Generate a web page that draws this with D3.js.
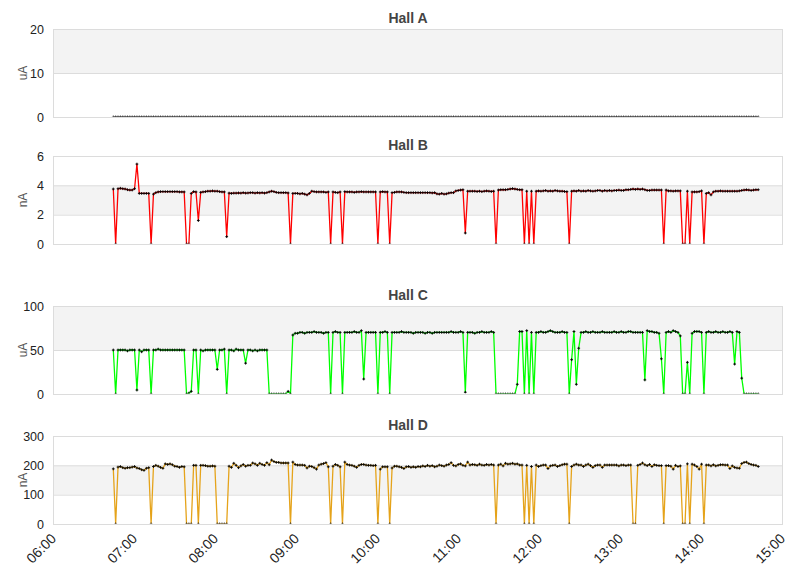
<!DOCTYPE html>
<html>
<head>
<meta charset="utf-8">
<script src="https://cdn.jsdelivr.net/npm/d3@7"></script>
<style>
  body { margin: 0; background: #fff; }
  text { font-family: "Liberation Sans", Arial, sans-serif; }
</style>
</head>
<body>
<svg id="chart" width="811" height="578"></svg>
<script>
// readings: one sample every 105 s starting 06:44:40
const startTime = [6, 44, 40];
const stepSeconds = 105;
const hourTicks = ["06:00", "07:00", "08:00", "09:00", "10:00", "11:00", "12:00", "13:00", "14:00", "15:00"];

const hallA = [
  0,0,0,0,0,0,0,0,0,0,0,0,0,0,0,0,0,0,0,0,
  0,0,0,0,0,0,0,0,0,0,0,0,0,0,0,0,0,0,0,0,
  0,0,0,0,0,0,0,0,0,0,0,0,0,0,0,0,0,0,0,0,
  0,0,0,0,0,0,0,0,0,0,0,0,0,0,0,0,0,0,0,0,
  0,0,0,0,0,0,0,0,0,0,0,0,0,0,0,0,0,0,0,0,
  0,0,0,0,0,0,0,0,0,0,0,0,0,0,0,0,0,0,0,0,
  0,0,0,0,0,0,0,0,0,0,0,0,0,0,0,0,0,0,0,0,
  0,0,0,0,0,0,0,0,0,0,0,0,0,0,0,0,0,0,0,0,
  0,0,0,0,0,0,0,0,0,0,0,0,0,0,0,0,0,0,0,0,
  0,0,0,0,0,0,0,0,0,0,0,0,0,0,0,0,0,0,0,0,
  0,0,0,0,0,0,0,0,0,0,0,0,0,0,0,0,0,0,0,0,
  0,0,0,0,0,0,0,0,0,0,0,0,0,0,0,0,0,0,0,0,
  0,0,0,0,0,0,0,0,0,0,0,0,0,0,0,0,0,0,0,0,
  0,0,0,0,0,0,0,0,0,0,0,0,0,0
];

const hallB = [
  3.75,0,3.77,3.8,3.77,3.75,3.7,3.68,3.68,3.77,5.45,
  3.45,3.45,3.45,3.45,3.45,0,
  3.4,3.5,3.55,3.57,3.57,3.57,3.57,3.57,3.57,3.57,3.57,3.55,3.55,3.55,
  0,0,3.45,3.57,3.55,1.6,3.52,
  3.55,3.57,3.6,3.6,3.62,3.6,3.6,3.57,3.55,3.55,0.5,
  3.47,3.45,3.47,3.47,3.48,3.47,3.5,3.47,3.48,3.5,3.5,3.47,3.5,3.48,3.5,3.47,3.5,3.55,3.6,3.57,3.52,3.5,3.5,3.5,3.5,3.48,
  0,
  3.45,3.45,3.45,3.42,3.45,3.4,3.35,3.45,3.6,3.57,3.55,3.55,3.55,3.55,3.52,3.55,
  0,
  3.55,3.52,3.5,3.55,
  0,
  3.57,3.55,3.55,3.55,3.52,3.55,3.55,3.57,3.55,3.55,3.55,3.55,3.55,3.55,
  0,
  3.55,3.57,3.55,3.55,
  0,
  3.5,3.52,3.55,3.55,3.55,3.52,3.5,3.5,3.5,3.5,3.5,3.5,3.5,3.5,3.5,3.5,3.5,3.48,3.5,
  3.42,3.4,3.45,3.4,3.42,
  3.47,3.5,3.5,
  3.62,3.65,3.68,3.7,
  0.75,
  3.6,3.6,3.6,3.6,3.58,3.6,3.57,3.6,3.62,3.6,3.58,3.6,
  0,
  3.68,3.7,3.7,3.7,3.72,3.75,3.78,3.75,3.72,3.7,3.7,
  0,3.6,0,3.6,0,
  3.6,3.62,3.6,3.62,3.65,3.6,3.62,3.6,3.65,3.62,3.6,3.6,3.58,3.57,
  0,
  3.6,3.62,3.6,3.65,3.6,3.62,3.6,3.65,3.62,3.6,
  3.62,3.65,3.65,3.6,3.65,3.62,3.65,3.62,3.65,3.65,
  3.68,3.65,3.65,3.7,3.7,3.72,3.75,3.72,3.75,3.72,
  3.75,3.7,3.65,3.65,3.68,3.68,3.68,3.68,3.68,
  0,
  3.68,3.62,3.62,3.6,3.62,3.62,3.62,
  0,0,3.6,0,
  3.55,3.55,3.55,3.57,3.62,
  0,
  3.45,3.5,3.35,3.55,3.6,3.6,3.62,3.6,3.6,3.6,
  3.6,3.6,3.6,3.6,3.62,3.65,3.68,3.7,3.68,3.65,
  3.68,3.7,3.7
];

const hallC = [
  50,0,50,50,50,50,49,50,50,50,4.5,50,48,50,50,50,0,
  50,50,51,50,50,50,50,50,50,50,50,50,50,50,
  0,1,3,
  50,50,0,50,49,50,50,50,50,50,28,50,50,51,0,
  50,50,49,51,50,50,50,35,
  50,50,49,50,49,50,50,50,50,
  0,0,0,0,0,0,0,0,3,0,
  67,
  69,69,70,70,69,70,70,70,71,70,70,70,69,70,70,
  0,
  70,71,70,70,
  0,
  70,70,70,70,71,70,70,72,
  17,
  70,70,70,70,70,
  0,
  70,70,71,70,
  0,
  70,70,70,70,71,70,70,70,70,69,
  70,70,70,70,69,70,70,69,70,70,
  70,70,70,70,70,71,70,70,70,71,
  70,
  2,
  70,70,70,69,70,70,71,70,70,70,71,70,
  0,0,0,0,0,0,0,0,0,
  11,
  71,71,
  0,72,0,70,0,
  70,70,71,70,70,71,72,71,70,70,70,71,70,70,
  0,39,71,11,52,
  70,70,71,70,70,71,70,70,70,71,
  70,70,70,70,71,70,70,71,70,70,
  71,71,70,70,70,70,70,
  16,
  72,71,71,70,70,69,40,
  0,
  70,71,70,72,71,70,66,
  0,0,36,0,
  69,71,71,71,70,
  0,
  70,71,70,70,71,70,70,71,70,70,71,70,
  34,71,70,18,
  0,0,0,0,0,0,0
];

const hallD = [
  188,0,
  194,196,192,190,192,192,194,196,191,189,185,183,190,192,
  0,
  196,200,197,193,190,205,203,205,202,197,196,193,196,195,
  0,0,0,
  200,200,0,
  200,200,199,197,197,198,197,
  0,0,0,0,0,
  197,193,207,200,192,198,203,197,200,200,
  208,205,200,207,203,200,209,202,218,213,
  210,210,208,208,208,208,
  0,
  211,203,201,201,201,200,191,197,196,192,187,201,204,206,209,195,
  0,
  197,203,200,195,
  0,
  211,203,201,200,197,193,200,203,203,201,200,200,199,200,
  0,
  187,195,195,195,
  0,
  191,197,197,195,193,189,195,196,193,195,
  193,196,195,198,196,200,197,199,195,197,
  201,199,197,201,203,209,200,198,203,205,
  200,198,211,201,203,202,200,204,201,200,
  203,201,203,201,
  0,
  201,204,198,207,204,205,207,204,205,201,201,
  0,200,0,196,0,
  201,196,199,201,201,189,198,200,201,196,199,202,204,204,
  0,
  196,201,204,201,201,196,201,204,199,193,
  199,201,201,193,201,201,201,201,201,201,
  198,201,201,199,201,201,
  0,0,
  200,203,208,202,199,203,196,202,200,199,199,
  0,
  199,199,197,187,200,196,198,
  0,0,205,0,
  204,201,196,187,204,
  0,
  201,201,198,202,198,200,202,202,201,201,
  189,198,193,191,190,206,210,211,206,203,
  201,200,196
];

const panels = [
  { title: "Hall A", unit: "uA", values: hallA, ticks: [0, 10, 20],        color: "#000000", top: 29 },
  { title: "Hall B", unit: "nA", values: hallB, ticks: [0, 2, 4, 6],       color: "#ff0000", top: 156 },
  { title: "Hall C", unit: "uA", values: hallC, ticks: [0, 50, 100],       color: "#00ff00", top: 306 },
  { title: "Hall D", unit: "nA", values: hallD, ticks: [0, 100, 200, 300], color: "#e5a31a", top: 436 }
];

const left = 53, right = 782, plotH = 88;
const svg = d3.select("#chart");

const day = (h, m, s) => new Date(2024, 0, 1, h, m || 0, s || 0);
const x = d3.scaleTime().domain([day(6), day(15)]).range([left, right]);
const t0 = day(...startTime);
const sampleTime = i => new Date(t0.getTime() + i * stepSeconds * 1000);

// tiny "+" marker
const marker = "M-1.4,0H1.4M0,-1.4V1.4";

panels.forEach((p, k) => {
  const bottom = p.top + plotH;
  const y = d3.scaleLinear().domain([0, d3.max(p.ticks)]).range([bottom, p.top]);
  const g = svg.append("g");

  // shaded second band
  g.append("rect")
    .attr("x", left).attr("width", right - left)
    .attr("y", y(p.ticks[2])).attr("height", y(p.ticks[1]) - y(p.ticks[2]))
    .attr("fill", "#f3f3f3");

  g.selectAll("line.grid").data(p.ticks).join("line")
    .attr("class", "grid")
    .attr("x1", left).attr("x2", right)
    .attr("y1", d => y(d) + 0.5).attr("y2", d => y(d) + 0.5)
    .attr("stroke", "#dcdcdc");

  // clip slightly above the zero line so readings at 0 sink into the frame
  g.append("clipPath").attr("id", "clip" + k)
    .append("rect").attr("x", left).attr("y", p.top).attr("width", right - left).attr("height", plotH - 0.6);

  const pts = p.values.map((v, i) => [sampleTime(i), v]);
  const line = d3.line().x(d => x(d[0])).y(d => y(d[1]));

  const series = g.append("g").attr("clip-path", `url(#clip${k})`);
  series.append("path")
    .attr("d", line(pts))
    .attr("fill", "none")
    .attr("stroke", p.color)
    .attr("stroke-width", 1.3)
    .attr("stroke-linejoin", "round");

  // plot frame
  g.append("rect")
    .attr("x", left + 0.5).attr("y", p.top + 0.5)
    .attr("width", right - left).attr("height", plotH)
    .attr("fill", "none").attr("stroke", "#dcdcdc");

  const dots = g.append("g").attr("clip-path", `url(#clip${k})`);
  dots.selectAll("path").data(pts).join("path")
    .attr("transform", d => `translate(${x(d[0])},${y(d[1])})`)
    .attr("d", marker)
    .attr("fill", "none")
    .attr("stroke", "#000")
    .attr("stroke-width", 0.9);

  const yAxis = g.append("g")
    .attr("transform", `translate(${left},0)`)
    .call(d3.axisLeft(y).tickValues(p.ticks).tickSize(0).tickPadding(9).tickFormat(d3.format("d")));
  yAxis.select(".domain").remove();
  yAxis.selectAll("text").attr("font-size", 12.5).attr("fill", "#222")
    .style("font-family", '"Liberation Sans", Arial, sans-serif');

  g.append("text")
    .attr("transform", `translate(27,${p.top + plotH / 2}) rotate(-90)`)
    .attr("text-anchor", "middle")
    .attr("font-size", 12)
    .attr("fill", "#555")
    .text(p.unit);

  g.append("text")
    .attr("x", 408).attr("y", p.top - 6)
    .attr("text-anchor", "middle")
    .attr("font-size", 14)
    .attr("font-weight", "bold")
    .attr("fill", "#444")
    .text(p.title);

  if (k === panels.length - 1) {
    const hours = hourTicks.map(s => day(+s.slice(0, 2)));
    const xAxis = g.append("g")
      .attr("transform", `translate(0,${bottom})`)
      .call(d3.axisBottom(x).tickValues(hours).tickSize(0).tickFormat((d, i) => hourTicks[i]));
    xAxis.select(".domain").remove();
    xAxis.selectAll("text")
      .attr("x", 0).attr("y", 0).attr("dy", "0.35em")
      .attr("text-anchor", "end")
      .attr("transform", "translate(0,12) rotate(-45)")
      .attr("font-size", 14)
      .attr("fill", "#222")
      .style("font-family", '"Liberation Sans", Arial, sans-serif');
  }
});
</script>
</body>
</html>
